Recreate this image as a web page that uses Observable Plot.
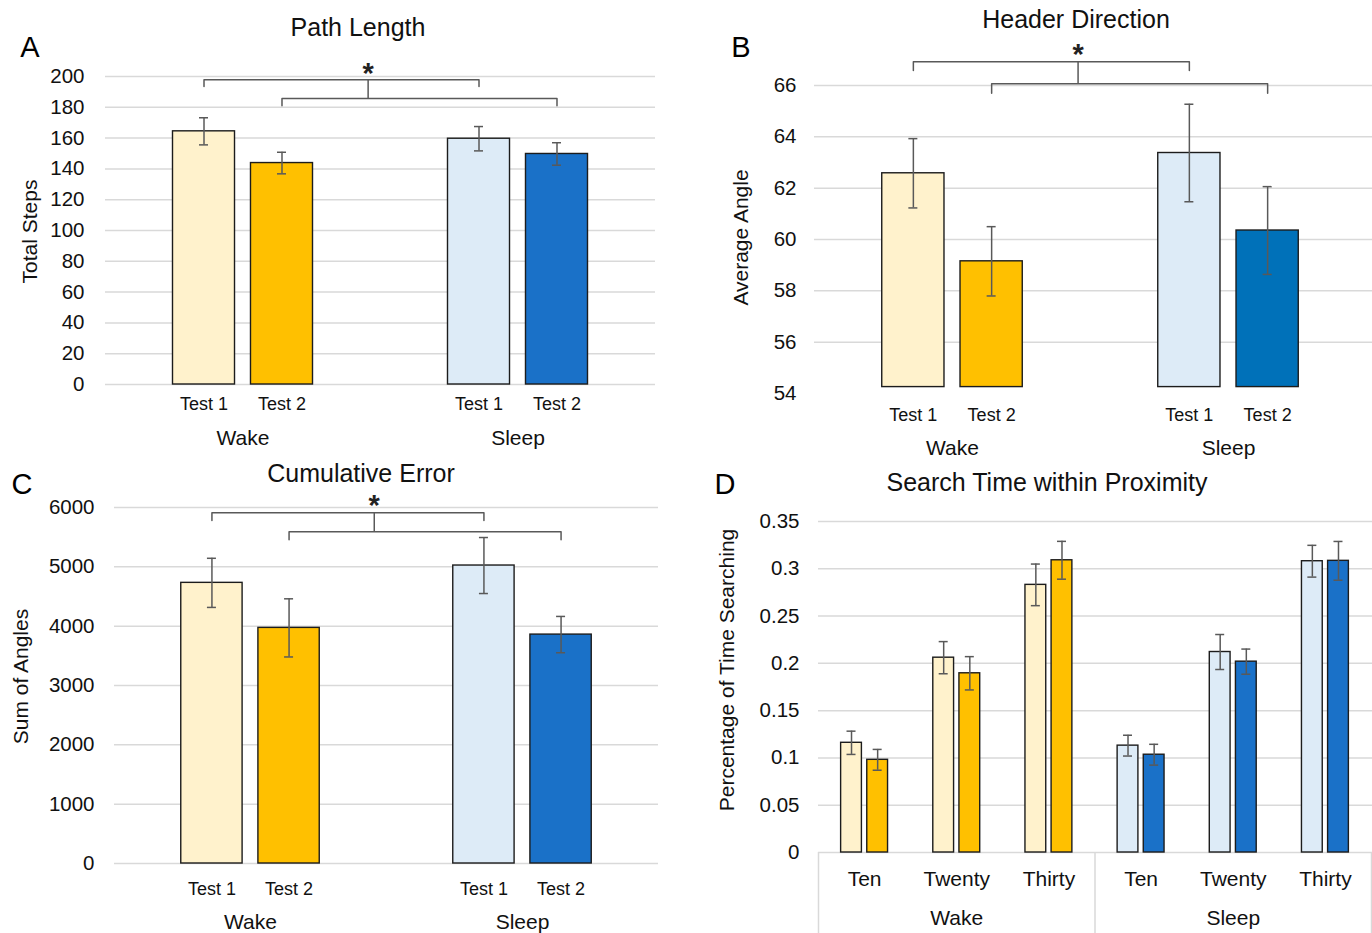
<!DOCTYPE html>
<html><head><meta charset="utf-8">
<script src="https://cdn.jsdelivr.net/npm/d3@7"></script>
<script src="https://cdn.jsdelivr.net/npm/@observablehq/plot@0.6"></script>
<style>
body{margin:0;background:#fff;font-family:"Liberation Sans",Arial,sans-serif;}
#page{position:relative;width:1372px;height:933px;overflow:hidden;background:#fff;}
.panel{position:absolute;}
.title{position:absolute;font-size:25px;transform:translate(-50%,-50%);white-space:nowrap;color:#111;line-height:1;}
.letter{position:absolute;font-size:29px;transform:translate(-50%,-50%);color:#000;line-height:1;}
</style></head><body><div id="page"></div>
<script>
// ---------- data ----------
const groups = ["Wake", "Sleep"];
const tests = ["Test 1", "Test 2"];
const intervals = ["Ten", "Twenty", "Thirty"];

// Panel A: Path Length (Total Steps) — [Wake, Sleep]
const pathTest1 = [164.4, 159.6];
const pathTest2 = [143.8, 149.7];
const pathErr1 = [8.8, 7.9];
const pathErr2 = [7.0, 7.3];
const pathTicks = [0, 20, 40, 60, 80, 100, 120, 140, 160, 180, 200];
const pathBracket = [197.9, 193.5, 185.7, 181.0, 204.4]; // upper, upper end, lower, lower end, star

// Panel B: Header Direction (Average Angle)
const headTest1 = [62.58, 63.37];
const headTest2 = [59.15, 60.35];
const headErr1 = [1.35, 1.90];
const headErr2 = [1.35, 1.71];
const headTicks = [54, 56, 58, 60, 62, 64, 66];
const headBase = 54.25;
const headBracket = [66.93, 66.58, 66.07, 65.70, 67.34];

// Panel C: Cumulative Error (Sum of Angles)
const cumTest1 = [4730, 5022];
const cumTest2 = [3971, 3858];
const cumErr1 = [414, 472];
const cumErr2 = [490, 306];
const cumTicks = [0, 1000, 2000, 3000, 4000, 5000, 6000];
const cumBracket = [5911, 5781, 5590, 5456, 6090];

// Panel D: Search Time within Proximity — Wake Ten/Twenty/Thirty, Sleep Ten/Twenty/Thirty
const searchTest1 = [0.116, 0.206, 0.283, 0.113, 0.212, 0.308];
const searchTest2 = [0.098, 0.1895, 0.309, 0.1034, 0.2018, 0.3084];
const searchErr1 = [0.0123, 0.017, 0.022, 0.011, 0.0185, 0.0168];
const searchErr2 = [0.011, 0.0176, 0.020, 0.011, 0.0133, 0.0205];
const searchTicks = [0, 0.05, 0.1, 0.15, 0.2, 0.25, 0.3, 0.35];

// colours
const wakeColors = ["#fff2cc", "#ffc000"];
const sleepColors = ["#ddebf7", "#1a71c8"];
const sleepColorsB = ["#ddebf7", "#0071b9"];

// ---------- helpers ----------
const OFFSET = 0.1418, BAR_W = 0.2255;
const FONT = '"Liberation Sans", Arial, sans-serif';
const TXT = "#111";
const GRID = "#d9d9d9";
const ERR = "#595959";

function makeRows(nCats, s1, s2, e1, e2, colorsOf) {
  const rows = [];
  for (let c = 0; c < nCats; c++) {
    [s1, s2].forEach((s, t) => {
      const cx = c + 0.5 + (t === 0 ? -OFFSET : OFFSET);
      rows.push({cat: c, test: tests[t], value: s[c], err: (t === 0 ? e1 : e2)[c],
                 color: colorsOf(c)[t], cx, x1: cx - BAR_W / 2, x2: cx + BAR_W / 2});
    });
  }
  return rows;
}

function barMarks(rows, base) {
  const cap = 4.5;
  return [
    Plot.rect(rows, {x1: "x1", x2: "x2", y1: () => base, y2: "value", fill: "color", stroke: "#1c1c1c", strokeWidth: 1.4}),
    Plot.ruleX(rows, {x: "cx", y1: d => d.value - d.err, y2: d => d.value + d.err, stroke: ERR, strokeWidth: 1.5}),
    Plot.ruleY(rows, {x1: "cx", x2: "cx", y: d => d.value + d.err, insetLeft: -cap, insetRight: -cap, stroke: ERR, strokeWidth: 1.5}),
    Plot.ruleY(rows, {x1: "cx", x2: "cx", y: d => d.value - d.err, insetLeft: -cap, insetRight: -cap, stroke: ERR, strokeWidth: 1.5})
  ];
}

function bracketMarks(rows, b) {
  const [up, upEnd, lo, loEnd, star] = b;
  const w1 = rows[0].cx, w2 = rows[1].cx, s1 = rows[2].cx, s2 = rows[3].cx;
  const mid = 0.955;
  const pts = [
    {k: "u", x: w1, y: upEnd}, {k: "u", x: w1, y: up}, {k: "u", x: s1, y: up}, {k: "u", x: s1, y: upEnd},
    {k: "l", x: w2, y: loEnd}, {k: "l", x: w2, y: lo}, {k: "l", x: s2, y: lo}, {k: "l", x: s2, y: loEnd}
  ];
  return [
    Plot.line(pts, {x: "x", y: "y", z: "k", stroke: ERR, strokeWidth: 1.5}),
    Plot.ruleX([mid], {x: d => d, y1: () => up, y2: () => lo, stroke: ERR, strokeWidth: 1.5}),
    Plot.text(["*"], {x: () => mid, y: () => star, text: d => d, fontSize: 29, fontWeight: "bold", fill: "#222", lineAnchor: "middle", dy: 4})
  ];
}

function place(node, left, top) {
  const wrap = document.createElement("div");
  wrap.className = "panel";
  wrap.style.left = left + "px";
  wrap.style.top = top + "px";
  wrap.appendChild(node);
  document.getElementById("page").appendChild(wrap);
}
function addText(cls, text, x, y) {
  const d = document.createElement("div");
  d.className = cls; d.textContent = text;
  d.style.left = x + "px"; d.style.top = y + "px";
  document.getElementById("page").appendChild(d);
}

function yTitle(label, dx, dy) {
  return Plot.text([label], {text: d => d, frameAnchor: "left", textAnchor: "middle", lineAnchor: "middle",
    rotate: -90, dx, dy, fontSize: 21, fill: TXT});
}

function twoGroupPanel(o) {
  const rows = makeRows(2, o.s1, o.s2, o.e1, o.e2, c => c === 0 ? wakeColors : o.sleepColors);
  return Plot.plot({
    width: o.width, height: o.height,
    marginTop: o.mt, marginBottom: o.mb, marginLeft: o.ml, marginRight: o.mr,
    x: {domain: [0, 2], axis: null},
    y: {domain: o.yDomain, axis: null},
    color: {type: "identity"},
    style: {fontFamily: FONT, fontSize: "20px", color: TXT, background: "transparent", overflow: "visible"},
    marks: [
      Plot.ruleY(o.grid, {stroke: GRID, strokeWidth: 1.5, insetRight: o.gridInsetRight || 0}),
      Plot.axisY({ticks: o.ticks, tickSize: 0, tickPadding: o.tickPadding, tickFormat: d => String(d), fontSize: 20.5, fill: TXT, label: null}),
      ...barMarks(rows, o.base),
      ...bracketMarks(rows, o.bracket),
      Plot.text(rows, {x: "cx", text: "test", frameAnchor: "bottom", lineAnchor: "middle", dy: o.testDy, fontSize: 18, fill: TXT}),
      Plot.text(groups, {x: (d, i) => i + 0.5, text: d => d, frameAnchor: "bottom", lineAnchor: "middle", dy: o.groupDy, fontSize: 21, fill: TXT}),
      yTitle(o.yLabel, o.yLabelDx, o.yLabelDy)
    ]
  });
}

// Panel A
place(twoGroupPanel({
  width: 686, height: 460, mt: 76, mb: 76, ml: 105, mr: 31,
  yDomain: [0, 200], ticks: pathTicks, grid: pathTicks, tickPadding: 21, base: 0,
  s1: pathTest1, s2: pathTest2, e1: pathErr1, e2: pathErr2, sleepColors: sleepColors,
  bracket: pathBracket, testDy: 20, groupDy: 54, yLabel: "Total Steps", yLabelDx: -75, yLabelDy: 1
}), 0, 0);

// Panel B
place(twoGroupPanel({
  width: 686, height: 460, mt: 85, mb: 67, ml: 128, mr: 6,
  yDomain: [54, 66], ticks: headTicks, grid: headTicks.filter(d => d > 54), tickPadding: 18, base: headBase,
  gridInsetRight: -6,
  s1: headTest1, s2: headTest2, e1: headErr1, e2: headErr2, sleepColors: sleepColorsB,
  bracket: headBracket, testDy: 22, groupDy: 55, yLabel: "Average Angle", yLabelDx: -73, yLabelDy: -2
}), 686, 0);

// Panel C
place(twoGroupPanel({
  width: 686, height: 473, mt: 47, mb: 70, ml: 114, mr: 28,
  yDomain: [0, 6000], ticks: cumTicks, grid: cumTicks, tickPadding: 20, base: 0,
  s1: cumTest1, s2: cumTest2, e1: cumErr1, e2: cumErr2, sleepColors: sleepColors,
  bracket: cumBracket, testDy: 26, groupDy: 59, yLabel: "Sum of Angles", yLabelDx: -93, yLabelDy: -9
}), 0, 460);

// Panel D
(function () {
  const rows = makeRows(6, searchTest1, searchTest2, searchErr1, searchErr2, c => c < 3 ? wakeColors : sleepColors);
  const subLabels = [];
  groups.forEach((g, gi) => intervals.forEach((lab, ii) => subLabels.push({label: lab, cx: gi * 3 + ii + 0.5})));
  const plotH = 473 - 61 - 81;
  const dividerBottom = -0.35 * 81 / plotH;
  const node = Plot.plot({
    width: 686, height: 473, marginTop: 61, marginBottom: 81, marginLeft: 132, marginRight: 1,
    x: {domain: [0, 6], axis: null},
    y: {domain: [0, 0.35], axis: null},
    color: {type: "identity"},
    style: {fontFamily: FONT, fontSize: "20px", color: TXT, background: "transparent", overflow: "visible"},
    marks: [
      Plot.ruleY(searchTicks, {stroke: GRID, strokeWidth: 1.5, insetRight: -1}),
      Plot.ruleX([0, 3, 6], {x: d => d, y1: () => 0, y2: () => dividerBottom, stroke: GRID, strokeWidth: 1.5}),
      Plot.axisY({ticks: searchTicks, tickSize: 0, tickPadding: 19, tickFormat: d => String(d), fontSize: 20.5, fill: TXT, label: null}),
      ...barMarks(rows, 0),
      Plot.text(subLabels, {x: "cx", text: "label", frameAnchor: "bottom", lineAnchor: "middle", dy: 27, fontSize: 21, fill: TXT}),
      Plot.text(groups, {x: (d, i) => i * 3 + 1.5, text: d => d, frameAnchor: "bottom", lineAnchor: "middle", dy: 66, fontSize: 21, fill: TXT}),
      yTitle("Percentage of Time Searching", -91, -17)
    ]
  });
  place(node, 686, 460);
})();

// titles and panel letters
addText("title", "Path Length", 358, 27);
addText("title", "Header Direction", 1076, 19);
addText("title", "Cumulative Error", 361, 473);
addText("title", "Search Time within Proximity", 1047, 482);
addText("letter", "A", 30, 47);
addText("letter", "B", 741, 47);
addText("letter", "C", 22, 484);
addText("letter", "D", 725, 484);
</script>
</body></html>
